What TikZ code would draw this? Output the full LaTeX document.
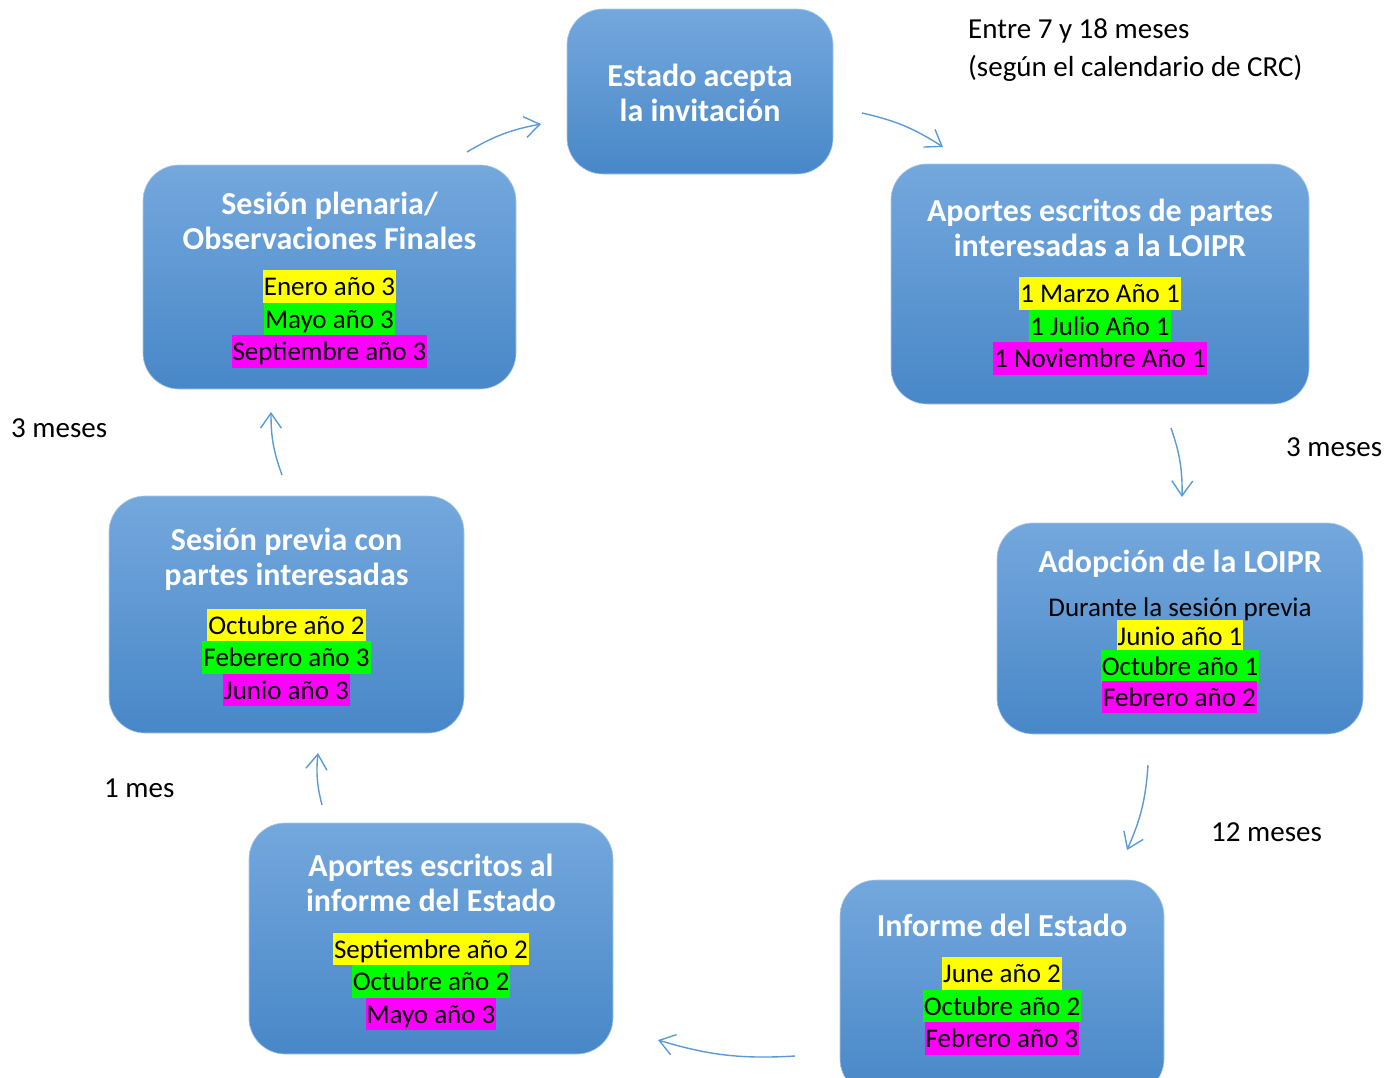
\documentclass[tikz,border=0pt]{standalone}
\usepackage{fontspec}
\setmainfont{Carlito}
\usetikzlibrary{arrows.meta}
\definecolor{boxtop}{HTML}{74A8DD}
\definecolor{boxbot}{HTML}{4887C8}
\definecolor{arrowc}{HTML}{5B9BD5}
\definecolor{hlyellow}{HTML}{FFFF00}
\definecolor{hlgreen}{HTML}{00FF00}
\definecolor{hlmagenta}{HTML}{FF00FF}
\tikzset{
  stagebox/.style={rectangle, rounded corners=36pt, top color=boxtop, bottom color=boxbot, draw=boxtop!60!white, line width=0.6pt, inner sep=0pt},
  titletext/.style={text=white, font=\fontsize{32}{35}\selectfont\bfseries, align=center, inner sep=0pt},
  datebase/.style={font=\fontsize{27}{30}\selectfont, inner xsep=1pt, inner ysep=3.25pt, text height=22pt, text depth=4pt},
  dyel/.style={datebase, fill=hlyellow},
  dgrn/.style={datebase, fill=hlgreen},
  dmag/.style={datebase, fill=hlmagenta},
  plaintext/.style={font=\fontsize{29}{38}\selectfont, inner sep=0pt, align=left},
  flow/.style={draw=arrowc, line width=1.4pt, -{Straight Barb[length=15pt,width=21pt]}, bend left=10}
}
\begin{document}
\begin{tikzpicture}[x=1pt, y=-1pt]
\clip (0,0) rectangle (1400,1077);
\fill[white] (0,0) rectangle (1400,1077);

% boxes
\node[stagebox, minimum width=266pt, minimum height=165pt] (b1) at (700,91.5) {};
\node[stagebox, minimum width=418pt, minimum height=240pt] (b2) at (1100,284) {};
\node[stagebox, minimum width=366pt, minimum height=211pt] (b3) at (1180,628.5) {};
\node[stagebox, minimum width=324pt, minimum height=215pt] (b4) at (1002,987.5) {};
\node[stagebox, minimum width=364pt, minimum height=231pt] (b5) at (431,938.5) {};
\node[stagebox, minimum width=355pt, minimum height=237pt] (b6) at (286.5,614.5) {};
\node[stagebox, minimum width=373pt, minimum height=224pt] (b7) at (329.5,277) {};

% titles
\node[titletext] (t1) at (700,92.5) {Estado acepta\\la invitación};
\node[titletext] (t2) at (1100,228) {Aportes escritos de partes\\interesadas a la LOIPR};
\node[titletext] (t3) at (1180,563.5) {Adopción de la LOIPR};
\node[titletext] (t4) at (1002,925.5) {Informe del Estado};
\node[titletext] (t5) at (431,883) {Aportes escritos al\\informe del Estado};
\node[titletext] (t6) at (286.5,559) {Sesión previa con\\partes interesadas};
\node[titletext] (t7) at (329.5,221) {Sesión plenaria/\\Observaciones Finales};

% dates
\node[dyel] (d2a) at (1100,293.5) {1 Marzo Año 1};
\node[dgrn] (d2b) at (1100,326) {1 Julio Año 1};
\node[dmag] (d2c) at (1100,358.5) {1 Noviembre Año 1};

\node[datebase] (d3x) at (1180,607.5) {Durante la sesión previa};
\node[dyel] (d3a) at (1180,636) {Junio año 1};
\node[dgrn] (d3b) at (1180,666.5) {Octubre año 1};
\node[dmag] (d3c) at (1179.5,697) {Febrero año 2};

\node[dyel] (d4a) at (1002,973.5) {June año 2};
\node[dgrn] (d4b) at (1002,1006) {Octubre año 2};
\node[dmag] (d4c) at (1002,1038.5) {Febrero año 3};

\node[dyel] (d5a) at (431,949) {Septiembre año 2};
\node[dgrn] (d5b) at (431,981.5) {Octubre año 2};
\node[dmag] (d5c) at (431,1014) {Mayo año 3};

\node[dyel] (d6a) at (286.5,625) {Octubre año 2};
\node[dgrn] (d6b) at (286.5,657.5) {Feberero año 3};
\node[dmag] (d6c) at (286.5,690) {Junio año 3};

\node[dyel] (d7a) at (329.5,286.5) {Enero año 3};
\node[dgrn] (d7b) at (329.5,319) {Mayo año 3};
\node[dmag] (d7c) at (329.5,351.5) {Septiembre año 3};

% labels
\node[plaintext, anchor=west] (l1) at (968,50) {Entre 7 y 18 meses\\(según el calendario de CRC)};
\node[plaintext, anchor=west] (l2) at (1286,447) {3 meses};
\node[plaintext, anchor=west] (l3) at (1211,832) {12 meses};
\node[plaintext, anchor=west] (l4) at (104,788) {1 mes};
\node[plaintext, anchor=west] (l5) at (11,428) {3 meses};

% arrow end points
\coordinate (a1s) at (862,113); \coordinate (a1e) at (943,147);
\coordinate (a2s) at (1171,428); \coordinate (a2e) at (1182,497);
\coordinate (a3s) at (1148,765); \coordinate (a3e) at (1127,850);
\coordinate (a4s) at (795,1056); \coordinate (a4e) at (658,1040);
\coordinate (a5s) at (322,805); \coordinate (a5e) at (318,753);
\coordinate (a6s) at (282,475); \coordinate (a6e) at (271,412);
\coordinate (a7s) at (467,152); \coordinate (a7e) at (541,124);

\draw[flow] (a1s) to (a1e);
\draw[flow] (a2s) to (a2e);
\draw[flow] (a3s) to (a3e);
\draw[flow] (a4s) to (a4e);
\draw[flow] (a5s) to (a5e);
\draw[flow] (a6s) to (a6e);
\draw[flow] (a7s) to (a7e);
\end{tikzpicture}
\end{document}
